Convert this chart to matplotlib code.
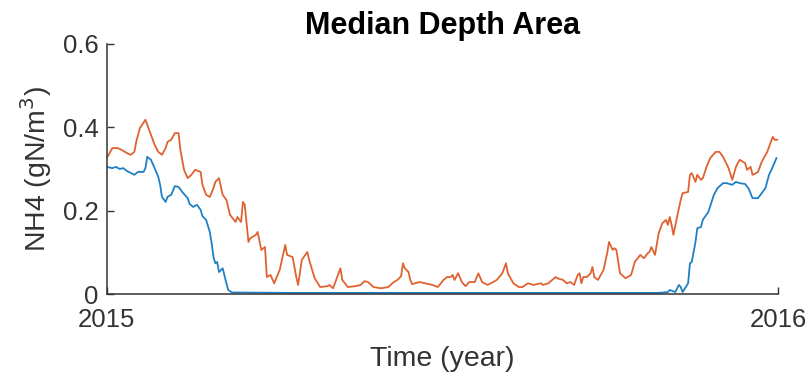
"""Median depth area NH4 over one year (2015 -> 2016), MATLAB-style figure."""

import matplotlib
matplotlib.use("Agg")
import matplotlib.pyplot as plt
import numpy as np

plt.rcParams["font.family"] = ["Liberation Sans", "DejaVu Sans"]

# ---------------------------------------------------------------------------
# Data (x in day of year)
# ---------------------------------------------------------------------------
ORANGE_DAY = [
    0, 3, 6, 8, 11, 13, 15, 16, 18, 21, 23, 26, 28, 30, 32, 33, 35, 37, 39, 40,
    42, 44, 46, 48, 51, 52, 54, 56, 58, 59, 61, 63, 65, 67, 70, 71, 73, 74, 75, 77,
    78, 81, 82, 84, 86, 87, 89, 91, 94, 97, 98, 101, 103, 104, 106, 109, 110, 113, 116, 120,
    121, 123, 127, 128, 131, 135, 138, 140, 142, 145, 149, 153, 156, 158, 160, 161, 162, 164, 165, 166,
    170, 173, 177, 180, 183, 185, 187, 188, 189, 191, 193, 195, 197, 200, 202, 204, 207, 210, 212, 215,
    217, 218, 221, 224, 226, 229, 232, 236, 237, 240, 244, 245, 248, 250, 252, 254, 256, 257, 258, 259,
    261, 263, 264, 265, 267, 270, 272, 273, 275, 276, 277, 279, 282, 285, 287, 290, 292, 294, 295, 296,
    298, 300, 302, 304, 305, 306, 307, 308, 310, 312, 313, 316, 317, 318, 320, 321, 323, 324, 326, 328,
    331, 333, 335, 338, 340, 342, 344, 347, 348, 350, 351, 353, 354, 356, 359, 362, 363, 365,
]
ORANGE_NH4 = [
    0.326, 0.350, 0.350, 0.346, 0.338, 0.334, 0.341, 0.365, 0.398, 0.418,
    0.394, 0.358, 0.341, 0.334, 0.350, 0.365, 0.370, 0.386, 0.386, 0.346,
    0.298, 0.278, 0.286, 0.298, 0.293, 0.262, 0.238, 0.233, 0.254, 0.269,
    0.278, 0.238, 0.226, 0.190, 0.173, 0.185, 0.173, 0.221, 0.214, 0.125,
    0.134, 0.142, 0.149, 0.106, 0.113, 0.041, 0.046, 0.026, 0.058, 0.118,
    0.094, 0.089, 0.041, 0.022, 0.082, 0.101, 0.082, 0.038, 0.017, 0.019,
    0.022, 0.014, 0.062, 0.034, 0.017, 0.019, 0.022, 0.031, 0.029, 0.017,
    0.014, 0.017, 0.029, 0.034, 0.043, 0.074, 0.062, 0.053, 0.034, 0.024,
    0.029, 0.026, 0.022, 0.017, 0.034, 0.041, 0.041, 0.046, 0.034, 0.050,
    0.029, 0.019, 0.029, 0.029, 0.050, 0.029, 0.022, 0.029, 0.034, 0.050,
    0.074, 0.050, 0.026, 0.017, 0.017, 0.026, 0.022, 0.026, 0.022, 0.026,
    0.041, 0.038, 0.034, 0.026, 0.029, 0.022, 0.046, 0.050, 0.026, 0.041,
    0.041, 0.050, 0.065, 0.041, 0.034, 0.058, 0.098, 0.125, 0.106, 0.110,
    0.106, 0.050, 0.038, 0.046, 0.077, 0.094, 0.086, 0.098, 0.101, 0.113,
    0.094, 0.146, 0.170, 0.178, 0.166, 0.185, 0.166, 0.142, 0.185, 0.226,
    0.242, 0.245, 0.286, 0.290, 0.269, 0.286, 0.274, 0.278, 0.305, 0.326,
    0.341, 0.341, 0.329, 0.302, 0.274, 0.305, 0.322, 0.314, 0.298, 0.305,
    0.286, 0.290, 0.293, 0.317, 0.341, 0.377, 0.370, 0.370,
]

BLUE_DAY = [
    0, 3, 5, 7, 9, 11, 15, 17, 20, 21, 22, 24, 26, 28, 29, 30, 32, 33, 35, 37,
    39, 41, 44, 45, 47, 49, 51, 52, 54, 56, 57, 58, 59, 60, 61, 63, 65, 66, 68, 100,
    150, 200, 250, 300, 305, 306, 309, 311, 312, 313, 316, 317, 318, 320, 321, 323, 324, 327, 330, 332,
    335, 337, 340, 342, 344, 347, 349, 351, 354, 356, 358, 360, 362, 364,
]
BLUE_NH4 = [
    0.305, 0.302, 0.305, 0.300, 0.302, 0.295, 0.286, 0.293, 0.293, 0.302,
    0.329, 0.322, 0.302, 0.281, 0.262, 0.233, 0.221, 0.233, 0.238, 0.259,
    0.257, 0.245, 0.230, 0.216, 0.209, 0.214, 0.202, 0.187, 0.178, 0.149,
    0.122, 0.089, 0.074, 0.077, 0.053, 0.062, 0.026, 0.010, 0.004, 0.003,
    0.003, 0.003, 0.003, 0.003, 0.005, 0.010, 0.005, 0.022, 0.017, 0.005,
    0.026, 0.074, 0.077, 0.125, 0.158, 0.161, 0.178, 0.197, 0.238, 0.254,
    0.266, 0.266, 0.262, 0.269, 0.266, 0.264, 0.252, 0.230, 0.230, 0.242,
    0.254, 0.286, 0.305, 0.326,
]

YEAR_START = 2015
YEAR_TICKS = [2015, 2016]
NH4_TICKS = [0, 0.2, 0.4, 0.6]

COLORS = {"orange": "#DE6330", "blue": "#1F80C6"}
AXIS_GRAY = "#333333"


def main() -> None:
    fig = plt.figure(figsize=(8.09, 3.81), dpi=100)
    ax = fig.add_axes([0.132, 0.228, 0.830, 0.657])

    x_orange = YEAR_START + np.array(ORANGE_DAY) / 365.0
    x_blue = YEAR_START + np.array(BLUE_DAY) / 365.0

    ax.plot(x_orange, ORANGE_NH4, color=COLORS["orange"], linewidth=1.3)
    ax.plot(x_blue, BLUE_NH4, color=COLORS["blue"], linewidth=1.3)

    ax.set_xlim(YEAR_TICKS[0], YEAR_TICKS[-1])
    ax.set_ylim(0, 0.6)
    ax.set_xticks(YEAR_TICKS)
    ax.set_xticklabels([str(y) for y in YEAR_TICKS])
    ax.set_yticks(NH4_TICKS)
    ax.set_yticklabels(["0", "0.2", "0.4", "0.6"])

    ax.spines[["top", "right"]].set_visible(False)
    for side in ("left", "bottom"):
        ax.spines[side].set_color(AXIS_GRAY)
        ax.spines[side].set_linewidth(1.1)
    ax.tick_params(direction="in", length=5, width=1.0, colors=AXIS_GRAY,
                   labelsize=18.5)
    ax.tick_params(axis="x", pad=10)
    ax.tick_params(axis="y", pad=6)

    ax.set_xlabel("Time (year)", fontsize=20.5, color=AXIS_GRAY, labelpad=10)
    ax.set_ylabel("NH4 (gN/m$^3$)", fontsize=20.5, color=AXIS_GRAY, labelpad=6)
    ax.set_title("Median Depth Area", fontsize=22, fontweight="bold",
                 color="black", pad=7)

    fig.savefig("out.png", dpi=100)
    plt.close(fig)


if __name__ == "__main__":
    main()
